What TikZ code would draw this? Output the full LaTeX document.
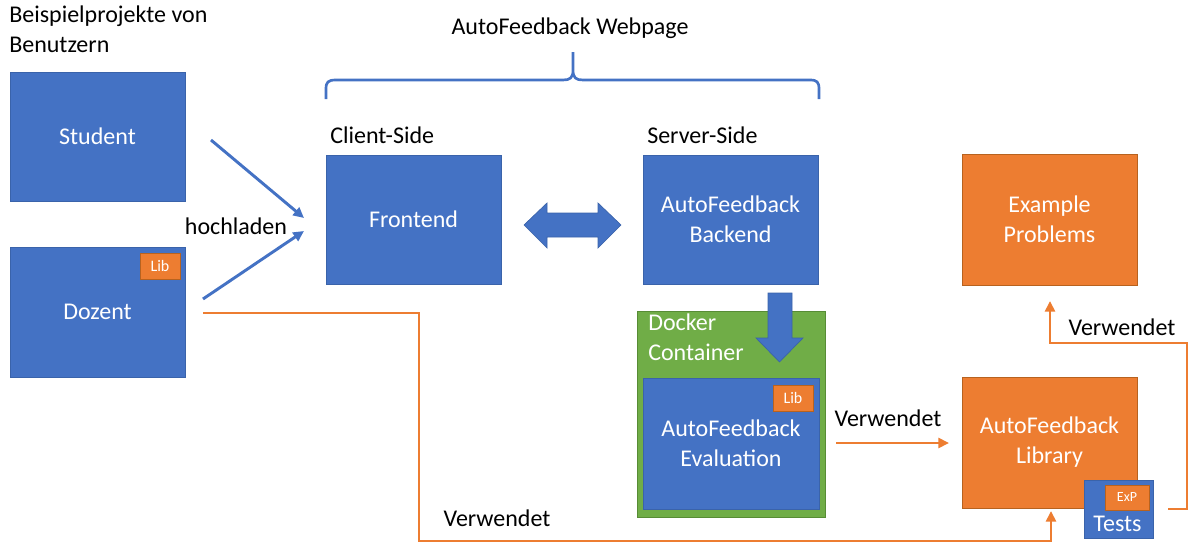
\documentclass[tikz,border=0pt]{standalone}
\usepackage{fontspec}
\setmainfont{Carlito}
\usetikzlibrary{arrows.meta}
\definecolor{pblue}{HTML}{4472C4}
\definecolor{bblue}{HTML}{3A63AA}
\definecolor{porange}{HTML}{ED7D31}
\definecolor{borange}{HTML}{B7621F}
\definecolor{pgreen}{HTML}{70AD47}
\definecolor{bgreen}{HTML}{578C35}
\begin{document}
\begin{tikzpicture}[x=0.75pt,y=-0.75pt,
  txt/.style={font=\fontsize{18}{22.5}\selectfont, inner sep=0pt, align=center},
  bbox/.style={txt, draw=bblue, fill=pblue, line width=0.6pt, text=white},
  obox/.style={txt, draw=borange, fill=porange, line width=0.6pt, text=white},
  badge/.style={draw=borange, fill=porange, line width=0.6pt, inner sep=0pt, text=white, font=\fontsize{12}{14}\selectfont},
  bline/.style={draw=pblue, line width=2.2pt, -{Triangle[length=8pt,width=7.5pt]}},
  oline/.style={draw=porange, line width=2.2pt, -{Triangle[length=8pt,width=7.5pt]}}
]
\useasboundingbox (0,0) rectangle (1189,543);

% title texts
\node[txt, anchor=north west, align=left] (title) at (9,6) {Beispielprojekte von\\Benutzern};
\node[txt] (webpage) at (570,28) {AutoFeedback Webpage};
\node[txt, anchor=west] (client) at (330,135) {Client-Side};
\node[txt, anchor=west] (server) at (647,135) {Server-Side};

% left boxes
\node[bbox, minimum width=131.25pt, minimum height=96.75pt] (student) at (97.5,136.5) {Student};
\node[bbox, minimum width=131.25pt, minimum height=97.5pt] (dozent) at (97.5,312) {Dozent};
\node[badge, minimum width=30pt, minimum height=19.5pt] (libd) at (160,266) {Lib};

% webpage boxes
\node[bbox, minimum width=131.25pt, minimum height=96.75pt] (frontend) at (413.5,219.5) {Frontend};
\node[bbox, minimum width=131.25pt, minimum height=96.75pt] (backend) at (730.5,219.5) {AutoFeedback\\Backend};

% docker container
\node[draw=bgreen, fill=pgreen, line width=0.6pt, inner sep=0pt, minimum width=141pt, minimum height=154.5pt] (docker) at (731,414) {};
\node[txt, anchor=north west, align=left, text=white] (dockerlabel) at (648,314) {Docker\\Container};
\node[bbox, minimum width=132pt, minimum height=98.25pt] (evaluation) at (731,443.5) {AutoFeedback\\Evaluation};
\node[badge, minimum width=30pt, minimum height=19.5pt] (libe) at (793,398) {Lib};

% right boxes
\node[obox, minimum width=131.25pt, minimum height=98.25pt] (example) at (1049.5,219.5) {Example\\Problems};
\node[obox, minimum width=131.25pt, minimum height=98.25pt] (library) at (1049.5,442.5) {AutoFeedback\\Library};
\node[bbox, minimum width=51.75pt, minimum height=43.5pt] (tests) at (1118.5,509) {};
\node[badge, minimum width=33pt, minimum height=18.75pt, font=\fontsize{10.5}{12}\selectfont] (exp) at (1127,497.5) {ExP};
\node[txt, text=white] (testslabel) at (1117.5,524) {Tests};

% brace
\draw[pblue, line width=2pt, line join=round]
  (326,99) -- (326,89) .. controls (326,82) and (328,80) .. (336,80) -- (563,80)
  .. controls (570,80) and (573,78) .. (573,70) -- (573,52)
  (573,70) .. controls (573,78) and (576,80) .. (583,80) -- (810,80)
  .. controls (817,80) and (819,82) .. (819,89) -- (819,99);

% double arrow between frontend and backend
\draw[fill=pblue, draw=bblue, line width=0.5pt]
  (524,225) -- (547,203) -- (547,213) -- (598,213) -- (598,203) -- (621,225)
  -- (598,248) -- (598,237) -- (547,237) -- (547,248) -- cycle;

% down arrow backend -> evaluation
\draw[fill=pblue, draw=bblue, line width=0.5pt]
  (768,293) -- (792,293) -- (792,338) -- (803,338) -- (779.5,362) -- (756,338) -- (768,338) -- cycle;

% hochladen arrows
\coordinate (s1) at (211,140);
\coordinate (d1) at (203,299);
\coordinate (h1) at (304,218);
\coordinate (h2) at (304,231);
\draw[bline] (s1) -- (h1);
\draw[bline] (d1) -- (h2);
\node[txt] (hoch) at (236,226) {hochladen};

% orange connectors
\coordinate (d2) at (203,313);
\draw[oline] (d2) -- (419,313) -- (419,541) -- (1051,541) -- (1051,511);
\node[txt] (verw1) at (497,518) {Verwendet};

\coordinate (e1) at (836,443);
\coordinate (l1) at (949,443);
\draw[oline] (e1) -- (l1);
\node[txt] (verw2) at (888,418) {Verwendet};

\coordinate (t1) at (1168,509);
\draw[oline] (t1) -- (1187,509) -- (1187,343) -- (1050,343) -- (1050,301);
\node[txt] (verw3) at (1122,327) {Verwendet};
\end{tikzpicture}
\end{document}
